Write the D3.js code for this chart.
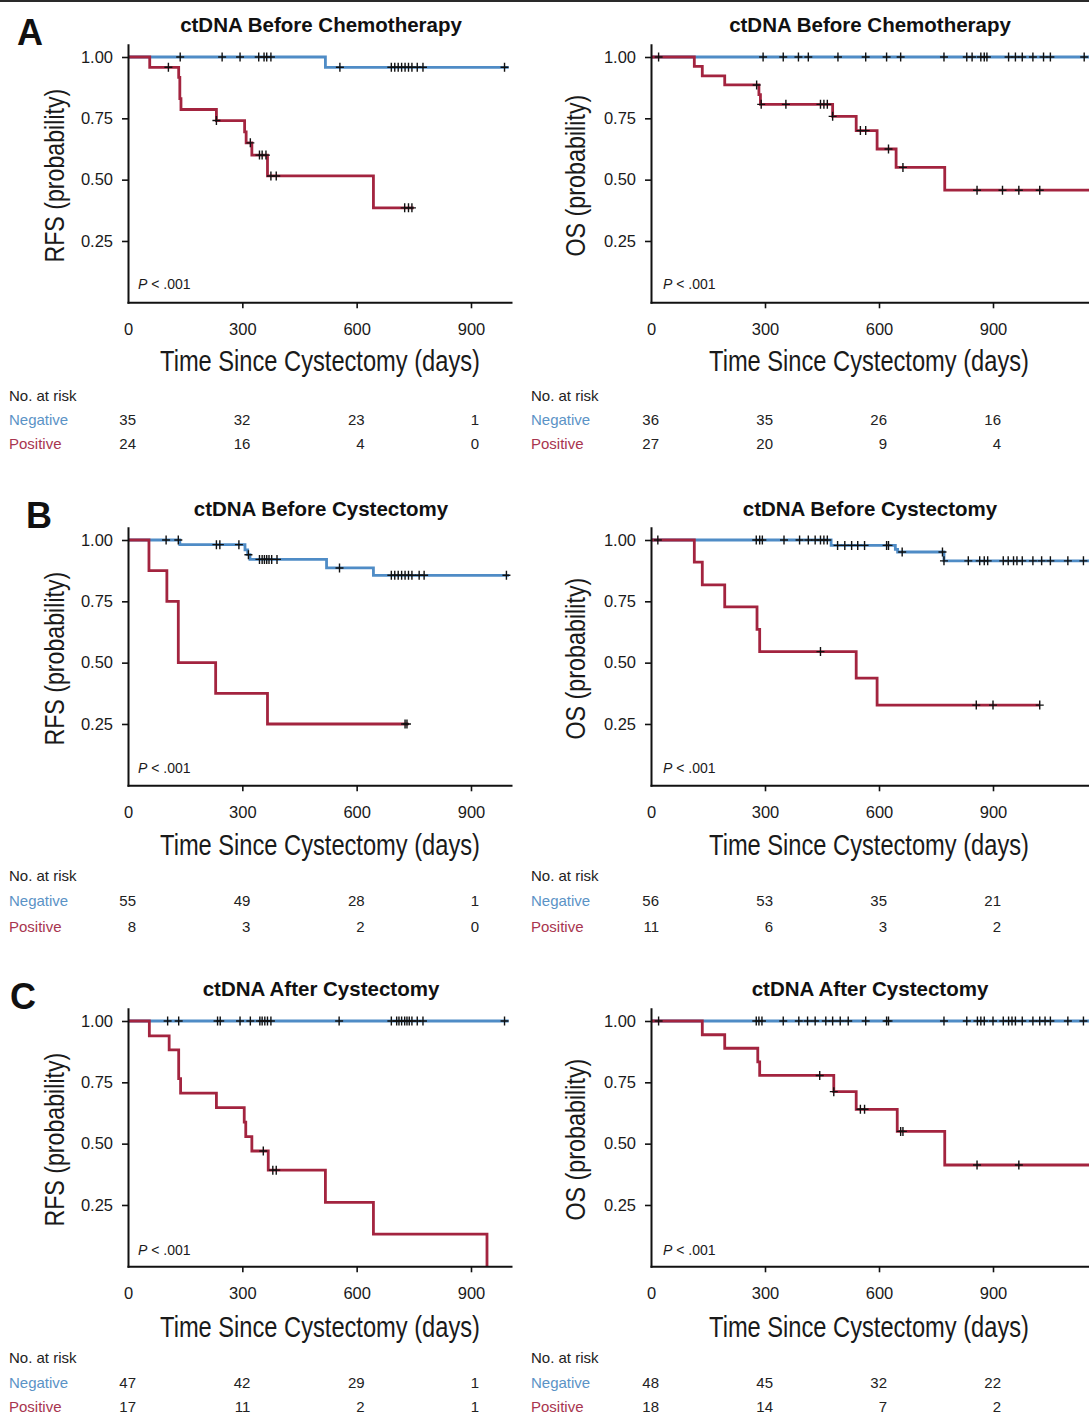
<!DOCTYPE html>
<html>
<head>
<meta charset="utf-8">
<script src="https://cdn.jsdelivr.net/npm/d3@7"></script>
<style>
  body { margin: 0; background: #fff; }
  svg { display: block; font-family: "Liberation Sans", Arial, Helvetica, sans-serif; }
</style>
</head>
<body>
<svg id="fig" width="1089" height="1415"></svg>
<script>
// ---- Kaplan-Meier data: steps are [day, survival after the event], censor = days of censored patients ----
const xTicks = [0, 300, 600, 900];
const yTicks = [0.25, 0.5, 0.75, 1.0];
const riskTimes = [0, 300, 600, 900];
const groupNames = ["Negative", "Positive"];

// A: ctDNA before chemotherapy, RFS
const rfsChemoNegSteps = [[518, 0.958]];
const rfsChemoNegEnd = 999;
const rfsChemoNegCensor = [137, 247, 294, 343, 357, 364, 375, 556, 691, 700, 709, 718, 727, 736, 745, 759, 774, 988];
const rfsChemoPosSteps = [[57, 0.958], [133, 0.917], [136, 0.83], [139, 0.786], [232, 0.741], [306, 0.695], [310, 0.65], [325, 0.60], [366, 0.515], [644, 0.385]];
const rfsChemoPosEnd = 750;
const rfsChemoPosCensor = [106, 232, 321, 345, 352, 362, 375, 389, 726, 736, 745];
const rfsChemoRiskNeg = [35, 32, 23, 1];
const rfsChemoRiskPos = [24, 16, 4, 0];

// A: ctDNA before chemotherapy, OS
const osChemoNegSteps = [];
const osChemoNegEnd = 1165;
const osChemoNegCensor = [20, 295, 348, 388, 414, 492, 565, 620, 657, 771, 831, 845, 868, 877, 884, 941, 959, 977, 1005, 1033, 1051, 1140];
const osChemoPosSteps = [[114, 0.962], [135, 0.923], [194, 0.886], [284, 0.847], [288, 0.807], [478, 0.758], [540, 0.70], [595, 0.625], [645, 0.55], [773, 0.457]];
const osChemoPosEnd = 1165;
const osChemoPosCensor = [278, 290, 355, 446, 455, 464, 478, 551, 565, 625, 663, 858, 925, 968, 1023];
const osChemoRiskNeg = [36, 35, 26, 16];
const osChemoRiskPos = [27, 20, 9, 4];

// B: ctDNA before cystectomy, RFS
const rfsPreCxNegSteps = [[136, 0.981], [307, 0.96], [314, 0.94], [320, 0.921], [521, 0.886], [644, 0.856]];
const rfsPreCxNegEnd = 1000;
const rfsPreCxNegCensor = [100, 132, 232, 241, 291, 316, 345, 352, 358, 364, 370, 377, 391, 555, 691, 700, 709, 718, 727, 736, 745, 764, 777, 993];
const rfsPreCxPosSteps = [[55, 0.875], [102, 0.75], [132, 0.5], [230, 0.375], [366, 0.25]];
const rfsPreCxPosEnd = 736;
const rfsPreCxPosCensor = [727, 732];
const rfsPreCxRiskNeg = [55, 49, 28, 1];
const rfsPreCxRiskPos = [8, 3, 2, 0];

// B: ctDNA before cystectomy, OS
const osPreCxNegSteps = [[474, 0.978], [643, 0.962], [649, 0.951], [771, 0.915]];
const osPreCxNegEnd = 1165;
const osPreCxNegCensor = [18, 277, 286, 293, 350, 391, 414, 432, 446, 455, 464, 491, 510, 528, 544, 562, 620, 625, 661, 767, 771, 835, 865, 877, 886, 927, 940, 954, 963, 977, 1005, 1028, 1051, 1097, 1138];
const osPreCxPosSteps = [[114, 0.91], [135, 0.817], [194, 0.727], [279, 0.636], [286, 0.545], [540, 0.437], [595, 0.327]];
const osPreCxPosEnd = 1023;
const osPreCxPosCensor = [446, 856, 900, 1023];
const osPreCxRiskNeg = [56, 53, 35, 21];
const osPreCxRiskPos = [11, 6, 3, 2];

// C: ctDNA after cystectomy, RFS
const rfsPostCxNegSteps = [];
const rfsPostCxNegEnd = 999;
const rfsPostCxNegCensor = [104, 133, 235, 242, 294, 321, 346, 352, 359, 366, 375, 554, 691, 705, 711, 718, 726, 732, 738, 745, 759, 774, 988];
const rfsPostCxPosSteps = [[56, 0.939], [108, 0.882], [133, 0.765], [138, 0.706], [232, 0.647], [305, 0.588], [309, 0.529], [325, 0.47], [368, 0.392], [518, 0.261], [644, 0.131], [942, 0]];
const rfsPostCxPosEnd = 942;
const rfsPostCxPosCensor = [355, 380, 389];
const rfsPostCxRiskNeg = [47, 42, 29, 1];
const rfsPostCxRiskPos = [17, 11, 2, 1];

// C: ctDNA after cystectomy, OS
const osPostCxNegSteps = [];
const osPostCxNegEnd = 1165;
const osPostCxNegCensor = [20, 277, 284, 292, 348, 389, 412, 432, 460, 478, 498, 519, 565, 620, 625, 771, 831, 859, 868, 877, 900, 927, 941, 950, 959, 977, 1005, 1023, 1037, 1051, 1097, 1138];
const osPostCxPosSteps = [[135, 0.944], [194, 0.889], [281, 0.833], [286, 0.778], [481, 0.712], [540, 0.64], [648, 0.55], [773, 0.413]];
const osPostCxPosEnd = 1165;
const osPostCxPosCensor = [444, 481, 551, 562, 657, 663, 858, 968];
const osPostCxRiskNeg = [48, 45, 32, 22];
const osPostCxRiskPos = [18, 14, 7, 2];

// ---- layout ----
const W = 1089, H = 1415;
const blue = "#4f8cc6", red = "#a3243f";
const blueText = "#5b93c6", redText = "#a8354f";

const cols = [
  { axisX: 128, pxPerDay: 0.3811, xMax: 1005, titleX: 321, axisTitleX: 320, yLabX: 55, riskLabX: 9, pX: 138, ylab: "RFS (probability)", ylabLen: 174 },
  { axisX: 651, pxPerDay: 0.3800, xMax: 1165, titleX: 870, axisTitleX: 869, yLabX: 576, riskLabX: 531, pX: 663, ylab: "OS (probability)", ylabLen: 162 }
];
const rows = [
  { letter: "A", letterX: 17, letterY: 45, titleY: 32, title: "ctDNA Before Chemotherapy",  y1: 57,   y0: 302.3,  tickY: 335,  axisTitleY: 371,  riskY: [401, 425, 449],    pY: 289 },
  { letter: "B", letterX: 26, letterY: 528, titleY: 516, title: "ctDNA Before Cystectomy",  y1: 540,  y0: 785.3,  tickY: 818,  axisTitleY: 855,  riskY: [881, 906, 932],    pY: 773 },
  { letter: "C", letterX: 10, letterY: 1009, titleY: 996, title: "ctDNA After Cystectomy",  y1: 1021, y0: 1266.3, tickY: 1299, axisTitleY: 1337, riskY: [1363, 1388, 1412], pY: 1255 }
];

const curves = [
  [ // row A
    { neg: [rfsChemoNegSteps, rfsChemoNegEnd, rfsChemoNegCensor], pos: [rfsChemoPosSteps, rfsChemoPosEnd, rfsChemoPosCensor], risk: [rfsChemoRiskNeg, rfsChemoRiskPos] },
    { neg: [osChemoNegSteps, osChemoNegEnd, osChemoNegCensor], pos: [osChemoPosSteps, osChemoPosEnd, osChemoPosCensor], risk: [osChemoRiskNeg, osChemoRiskPos] }
  ],
  [ // row B
    { neg: [rfsPreCxNegSteps, rfsPreCxNegEnd, rfsPreCxNegCensor], pos: [rfsPreCxPosSteps, rfsPreCxPosEnd, rfsPreCxPosCensor], risk: [rfsPreCxRiskNeg, rfsPreCxRiskPos] },
    { neg: [osPreCxNegSteps, osPreCxNegEnd, osPreCxNegCensor], pos: [osPreCxPosSteps, osPreCxPosEnd, osPreCxPosCensor], risk: [osPreCxRiskNeg, osPreCxRiskPos] }
  ],
  [ // row C
    { neg: [rfsPostCxNegSteps, rfsPostCxNegEnd, rfsPostCxNegCensor], pos: [rfsPostCxPosSteps, rfsPostCxPosEnd, rfsPostCxPosCensor], risk: [rfsPostCxRiskNeg, rfsPostCxRiskPos] },
    { neg: [osPostCxNegSteps, osPostCxNegEnd, osPostCxNegCensor], pos: [osPostCxPosSteps, osPostCxPosEnd, osPostCxPosCensor], risk: [osPostCxRiskNeg, osPostCxRiskPos] }
  ]
];

const svg = d3.select("#fig");
svg.append("rect").attr("width", W).attr("height", H).attr("fill", "#fff");
// rule across the top of the figure
svg.append("rect").attr("x", 0).attr("y", 0).attr("width", W).attr("height", 2).attr("fill", "#2a2a2a");

function survAt(steps, t) {
  let s = 1;
  for (const [tt, ss] of steps) if (tt <= t) s = ss;
  return s;
}

function drawCurve(g, x, y, spec, color) {
  const [steps, end, censor] = spec;
  const last = steps.length ? steps[steps.length - 1][1] : 1;
  const pts = [[0, 1], ...steps, [end, last]];
  g.append("path")
    .datum(pts)
    .attr("fill", "none")
    .attr("stroke", color)
    .attr("stroke-width", 2.8)
    .attr("stroke-linejoin", "miter")
    .attr("d", d3.line().x(d => x(d[0])).y(d => y(d[1])).curve(d3.curveStepAfter));
  return censor.map(t => [t, survAt(steps, t)]);
}

// condensed-looking label: draw at full size, then squeeze horizontally to a target width
function condensedText(parent, str, size, targetWidth, cx, cy, rotate) {
  const t = parent.append("text").attr("text-anchor", "middle").attr("font-size", size)
    .attr("fill", "#1a1a1a").text(str);
  const w = t.node().getComputedTextLength() || targetWidth;
  const sx = targetWidth / w;
  t.attr("transform", `translate(${cx},${cy})` + (rotate ? " rotate(-90)" : "") + ` scale(${sx},1)`);
  return t;
}

rows.forEach((row, ri) => {
  // panel letter
  svg.append("text").attr("x", row.letterX).attr("y", row.letterY)
    .attr("font-size", 36).attr("font-weight", "bold").attr("fill", "#111").text(row.letter);

  cols.forEach((col, ci) => {
    const data = curves[ri][ci];
    const x = d3.scaleLinear().domain([0, col.xMax]).range([col.axisX, col.axisX + col.xMax * col.pxPerDay]);
    const yTop = row.y0 - 1.05 * (row.y0 - row.y1);
    const y = d3.scaleLinear().domain([0, 1.05]).range([row.y0, yTop]);
    const g = svg.append("g");

    // title
    g.append("text").attr("x", col.titleX).attr("y", row.titleY)
      .attr("text-anchor", "middle").attr("font-size", 20.5).attr("font-weight", "bold")
      .attr("fill", "#111").text(row.title);

    // curves
    const cNeg = drawCurve(g, x, y, data.neg, blue);
    const cPos = drawCurve(g, x, y, data.pos, red);
    g.append("g").selectAll("path").data(cNeg.concat(cPos)).join("path")
      .attr("transform", d => `translate(${x(d[0])},${y(d[1])})`)
      .attr("d", "M-4,0H4M0,-4.5V4.5")
      .attr("stroke", "#111").attr("stroke-width", 1.4).attr("fill", "none");

    // axes
    const fs = 16.5;
    const xAxis = d3.axisBottom(x).tickValues(xTicks).tickSize(6).tickSizeOuter(0)
      .tickPadding(row.tickY - row.y0 - 6 - 0.71 * fs).tickFormat(d3.format("d"));
    const gx = g.append("g").attr("transform", `translate(0,${row.y0})`).call(xAxis);
    gx.selectAll(".tick").filter(d => d === 0).select("line").remove();

    const yAxis = d3.axisLeft(y).tickValues(yTicks).tickSize(6).tickSizeOuter(0)
      .tickPadding(9).tickFormat(d3.format(".2f"));
    const gy = g.append("g").attr("transform", `translate(${col.axisX},0)`).call(yAxis);

    [gx, gy].forEach(a => {
      a.attr("font-family", null).attr("font-size", null);
      a.select(".domain").attr("stroke", "#111").attr("stroke-width", 2).attr("stroke-linecap", "square");
      a.selectAll(".tick line").attr("stroke", "#111").attr("stroke-width", 1.6);
      a.selectAll(".tick text").attr("fill", "#1a1a1a").attr("font-size", fs);
    });

    // axis titles
    condensedText(g, "Time Since Cystectomy (days)", 29, 320, col.axisTitleX, row.axisTitleY, false);
    condensedText(g, col.ylab, 28, col.ylabLen, col.yLabX + 9, (y(1) + y(0)) / 2 - 4, true);

    // P value
    const pt = g.append("text").attr("x", col.pX).attr("y", row.pY).attr("font-size", 14).attr("fill", "#1a1a1a");
    pt.append("tspan").attr("font-style", "italic").text("P");
    pt.append("tspan").text(" < .001");

    // number at risk
    g.append("text").attr("x", col.riskLabX).attr("y", row.riskY[0]).attr("font-size", 15)
      .attr("fill", "#222").text("No. at risk");
    groupNames.forEach((name, k) => {
      g.append("text").attr("x", col.riskLabX).attr("y", row.riskY[k + 1]).attr("font-size", 15)
        .attr("fill", k === 0 ? blueText : redText).text(name);
      g.append("g").selectAll("text").data(data.risk[k]).join("text")
        .attr("x", (d, i) => x(riskTimes[i]) + 8)
        .attr("y", row.riskY[k + 1])
        .attr("text-anchor", "end").attr("font-size", 15).attr("fill", "#222")
        .text(d => d);
    });
  });
});
</script>
</body>
</html>
